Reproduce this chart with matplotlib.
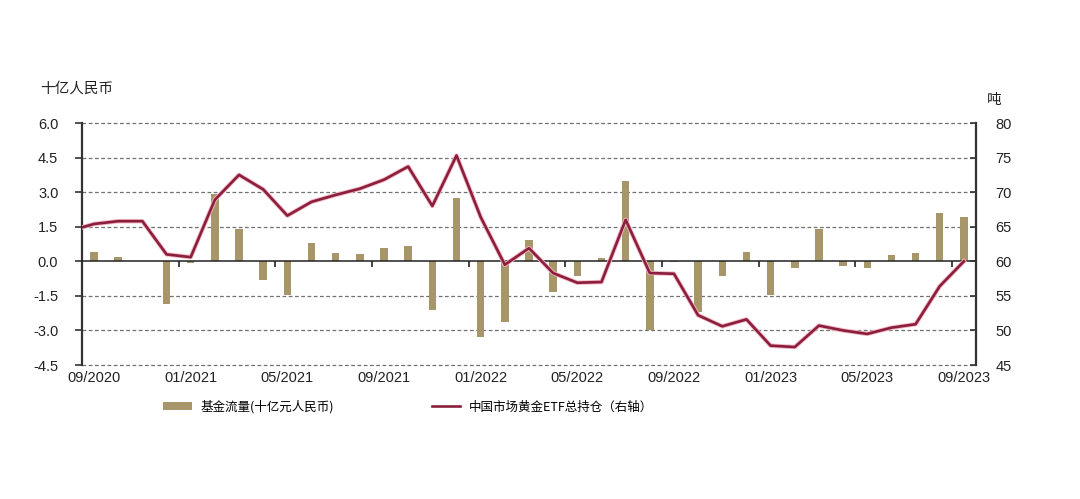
import numpy as np
import matplotlib

matplotlib.use("Agg")
import matplotlib.pyplot as plt
import matplotlib.transforms as mtransforms
import matplotlib.patheffects as pe
from matplotlib.lines import Line2D
from matplotlib.patches import Patch

plt.rcParams["font.family"] = ["Liberation Sans", "Noto Sans CJK SC", "DejaVu Sans"]

# 月度数据: 09/2020 - 09/2023
months = [
    "09/2020", "10/2020", "11/2020", "12/2020", "01/2021", "02/2021", "03/2021",
    "04/2021", "05/2021", "06/2021", "07/2021", "08/2021", "09/2021", "10/2021",
    "11/2021", "12/2021", "01/2022", "02/2022", "03/2022", "04/2022", "05/2022",
    "06/2022", "07/2022", "08/2022", "09/2022", "10/2022", "11/2022", "12/2022",
    "01/2023", "02/2023", "03/2023", "04/2023", "05/2023", "06/2023", "07/2023",
    "08/2023", "09/2023",
]
fund_flow = [
    0.40, 0.19, 0.0, -1.84, -0.08, 2.92, 1.40,
    -0.79, -1.48, 0.79, 0.35, 0.30, 0.58, 0.68,
    -2.10, 2.75, -3.29, -2.63, 0.94, -1.34, -0.65,
    0.13, 3.47, -2.99, -0.04, -2.20, -0.65, 0.41,
    -1.47, -0.29, 1.38, -0.19, -0.29, 0.29, 0.35,
    2.08, 1.94,
]
etf_holdings = [
    65.4, 65.8, 65.8, 61.0, 60.6, 68.9, 72.5,
    70.4, 66.6, 68.6, 69.6, 70.5, 71.8, 73.7,
    68.0, 75.3, 66.4, 59.5, 61.9, 58.3, 56.9,
    57.0, 66.0, 58.3, 58.2, 52.2, 50.6, 51.6,
    47.8, 47.6, 50.7, 50.0, 49.5, 50.4, 50.9,
    56.4, 60.0,
]
etf_start = 64.9  # 线条在左轴处的起点

left_ticks = [-4.5, -3.0, -1.5, 0.0, 1.5, 3.0, 4.5, 6.0]
right_ticks = [45, 50, 55, 60, 65, 70, 75, 80]

bar_color = "#A8966B"
line_color = "#8A1E3C"
grid_color = "#707070"
axis_color = "#333333"

x = np.arange(len(months))

fig = plt.figure(figsize=(10.8, 4.99), dpi=100)
ax = fig.add_axes([0.0759, 0.2685, 0.8278, 0.485])
ax2 = ax.twinx()

ax.bar(x, fund_flow, width=0.31, color=bar_color, zorder=3)

ax.set_xlim(-0.5, len(months) - 0.5)
ax.set_ylim(-4.5, 6.0)
ax.set_yticks(left_ticks)
ax.set_yticklabels([f"{v:.1f}" for v in left_ticks], fontsize=10.5)
for v in left_ticks:
    if v != 0:
        ax.axhline(v, color=grid_color, lw=0.9, ls=(0, (3, 2)), zorder=1, clip_on=False)

ax.spines["top"].set_visible(False)
ax.spines["right"].set_visible(False)
ax.spines["left"].set_color(axis_color)
ax.spines["left"].set_linewidth(1.6)
ax.spines["bottom"].set_position(("data", 0))
ax.spines["bottom"].set_color("#222222")
ax.spines["bottom"].set_linewidth(1.1)
ax.spines["bottom"].set_zorder(4)
ax.tick_params(axis="y", direction="out", length=5, width=1.2, color=axis_color,
               labelcolor="#222222", pad=12)

# 分隔刻度在零线上, 日期标签放在底部
ax.set_xticks(np.arange(3.5, len(months), 4))
ax.set_xticklabels([])
ax.tick_params(axis="x", direction="out", length=4, width=1.2, color="#222222")
trans = mtransforms.blended_transform_factory(ax.transData, ax.transAxes)
for i in range(0, len(months), 4):
    ax.text(x[i], -0.025, months[i], transform=trans, ha="center", va="top",
            fontsize=10.5, color="#222222")

line_x = np.concatenate([[-0.5], x])
line_y = np.concatenate([[etf_start], etf_holdings])
ax2.plot(line_x, line_y, color=line_color, lw=1.9, zorder=5,
         path_effects=[pe.Stroke(linewidth=3.2, foreground="#F2B5C2"), pe.Normal()])
ax2.set_ylim(45, 80)
ax2.set_yticks(right_ticks)
ax2.set_yticklabels([str(v) for v in right_ticks], fontsize=10.5)
for s in ["top", "left", "bottom"]:
    ax2.spines[s].set_visible(False)
ax2.spines["right"].set_color(axis_color)
ax2.spines["right"].set_linewidth(1.6)
ax2.tick_params(axis="y", direction="in", length=4, width=1.2, color=axis_color,
                labelcolor="#222222", pad=14)

fig.text(0.037, 0.823, "十亿人民币", fontsize=10.5, ha="left", va="center",
         color="#222222", family=["Noto Sans CJK SC", "DejaVu Sans"])
fig.text(0.921, 0.800, "吨", fontsize=10.5, ha="center", va="center",
         color="#222222", family=["Noto Sans CJK SC", "DejaVu Sans"])

handles = [
    Patch(facecolor=bar_color, edgecolor="none"),
    Line2D([], [], color=line_color, lw=1.9),
]
labels = ["基金流量(十亿元人民币)", "中国市场黄金ETF总持仓（右轴）"]
fig.legend(handles, labels, loc="center", bbox_to_anchor=(0.378, 0.185), ncol=2,
           frameon=False, columnspacing=7.8, handlelength=2.3,
           handletextpad=0.7,
           prop={"family": ["Noto Sans CJK SC", "DejaVu Sans"], "size": 9})

fig.savefig("out.png", dpi=100, facecolor="white")
